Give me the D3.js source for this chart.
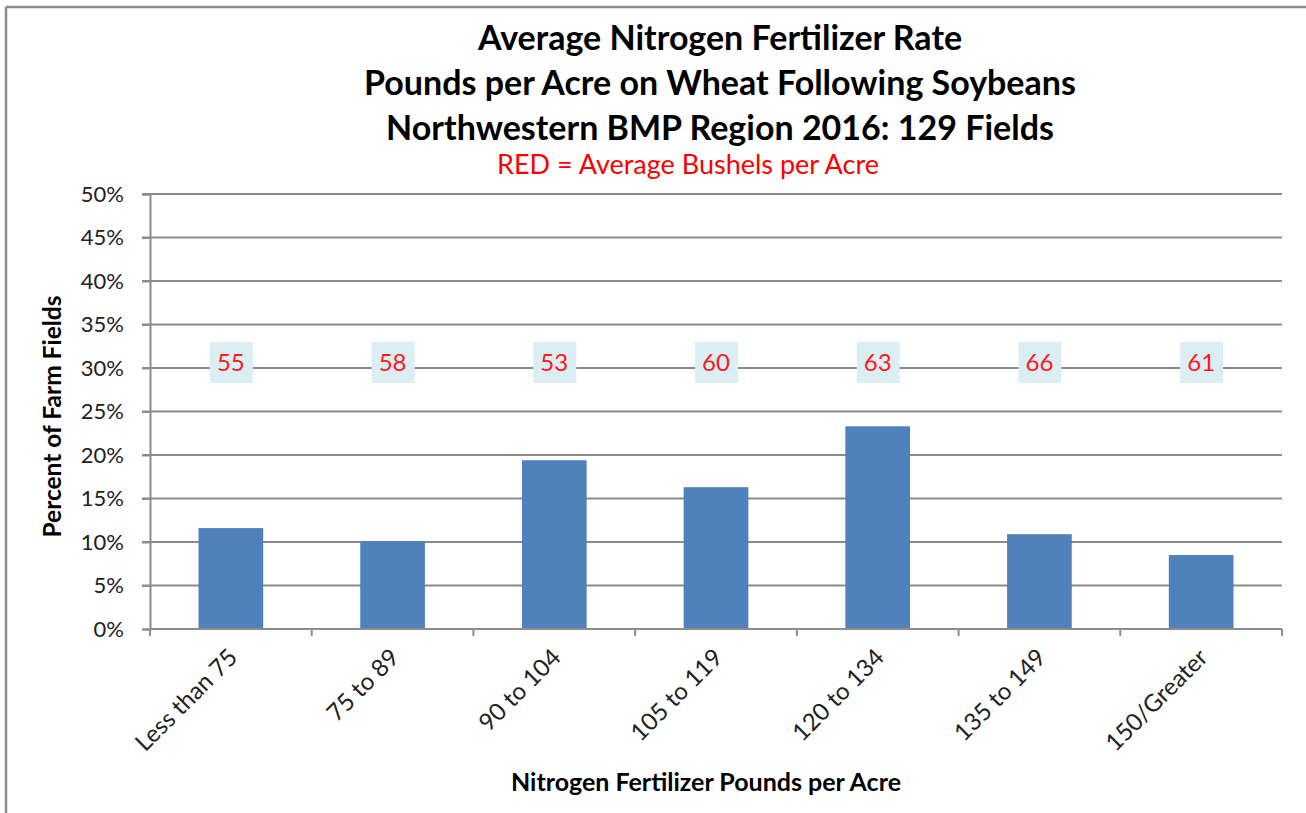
<!DOCTYPE html>
<html>
<head>
<meta charset="utf-8">
<script src="https://cdn.jsdelivr.net/npm/d3@7"></script>
<style>
  body { margin: 0; background: #fff; }
  text { font-family: Lato, "Open Sans", sans-serif; }
</style>
</head>
<body>
<svg id="chart"></svg>
<script>
// Chart values
const categories = ["Less than 75", "75 to 89", "90 to 104", "105 to 119", "120 to 134", "135 to 149", "150/Greater"];
const percentFields = [11.6, 10.1, 19.4, 16.3, 23.3, 10.9, 8.5];
const avgBushels = [55, 58, 53, 60, 63, 66, 61];
const yTicks = [0, 5, 10, 15, 20, 25, 30, 35, 40, 45, 50];
const titleLines = ["Average Nitrogen Fertilizer Rate", "Pounds per Acre on Wheat Following Soybeans", "Northwestern BMP Region 2016: 129 Fields"];

const width = 1306, height = 813;
const margin = { left: 150, right: 24, top: 194, bottom: 184 };

const svg = d3.select("#chart")
    .attr("width", width)
    .attr("height", height);

// outer frame (top and left edges only visible)
svg.append("line").attr("x1", 6).attr("x2", width).attr("y1", 7).attr("y2", 7)
    .attr("stroke", "#8c8c8c").attr("stroke-width", 2.5);
svg.append("line").attr("x1", 6).attr("x2", 6).attr("y1", 7).attr("y2", height)
    .attr("stroke", "#8c8c8c").attr("stroke-width", 2.5);

const x = d3.scaleBand()
    .domain(categories)
    .range([margin.left, width - margin.right])
    .paddingInner(0.6)
    .paddingOuter(0.3);

const y = d3.scaleLinear()
    .domain([0, 50])
    .range([height - margin.bottom, margin.top]);

// gridlines
svg.append("g")
    .selectAll("line")
    .data(yTicks.filter(d => d > 0))
    .join("line")
    .attr("x1", margin.left - 8)
    .attr("x2", width - margin.right)
    .attr("y1", d => y(d))
    .attr("y2", d => y(d))
    .attr("stroke", "#8c8c8c")
    .attr("stroke-width", 2);

// y axis
const yAxis = svg.append("g")
    .attr("transform", `translate(${margin.left},0)`)
    .call(d3.axisLeft(y).tickValues(yTicks).tickFormat(d => d + "%").tickSize(8).tickPadding(18));
yAxis.select(".domain").attr("stroke", "#8c8c8c").attr("stroke-width", 2);
yAxis.selectAll(".tick line").attr("stroke", "#8c8c8c").attr("stroke-width", 2);
yAxis.selectAll(".tick text")
    .attr("font-size", 22)
    .attr("fill", "#222")
    .style("font-family", "Lato, sans-serif");

// bars
svg.append("g")
    .selectAll("rect")
    .data(percentFields)
    .join("rect")
    .attr("x", (d, i) => x(categories[i]))
    .attr("y", d => y(d))
    .attr("width", x.bandwidth())
    .attr("height", d => y(0) - y(d))
    .attr("fill", "#4f81bd");

// x axis with ticks at category boundaries
const boundaries = d3.range(categories.length + 1).map(i => margin.left + i * (width - margin.right - margin.left) / categories.length);
svg.append("line")
    .attr("x1", margin.left).attr("x2", width - margin.right)
    .attr("y1", y(0)).attr("y2", y(0))
    .attr("stroke", "#8c8c8c").attr("stroke-width", 2);
svg.append("g")
    .selectAll("line")
    .data(boundaries)
    .join("line")
    .attr("x1", d => d).attr("x2", d => d)
    .attr("y1", y(0)).attr("y2", y(0) + 7)
    .attr("stroke", "#8c8c8c").attr("stroke-width", 2);

// x category labels rotated
svg.append("g")
    .selectAll("text")
    .data(categories)
    .join("text")
    .attr("transform", d => `translate(${x(d) + x.bandwidth() / 2 + 8},${y(0) + 30}) rotate(-45)`)
    .attr("text-anchor", "end")
    .attr("font-size", 24)
    .attr("fill", "#222")
    .text(d => d);

// bushel labels in boxes
const labels = svg.append("g")
    .selectAll("g")
    .data(avgBushels)
    .join("g")
    .attr("transform", (d, i) => `translate(${x(categories[i]) + x.bandwidth() / 2},${y(30.7)})`);
labels.append("rect")
    .attr("x", -21).attr("y", -20)
    .attr("width", 43).attr("height", 41)
    .attr("fill", "#dbeef4");
labels.append("text")
    .attr("text-anchor", "middle")
    .attr("dy", "0.36em")
    .attr("font-size", 24)
    .attr("fill", "#ff1a1a")
    .text(d => d);

// titles
svg.append("g")
    .selectAll("text")
    .data(titleLines)
    .join("text")
    .attr("x", 720)
    .attr("y", (d, i) => 50 + i * 45)
    .attr("text-anchor", "middle")
    .attr("font-size", 34)
    .attr("font-weight", "bold")
    .attr("fill", "#000")
    .text(d => d);

svg.append("text")
    .attr("x", 688)
    .attr("y", 174)
    .attr("text-anchor", "middle")
    .attr("font-size", 27)
    .attr("fill", "#ff0000")
    .text("RED = Average Bushels per Acre");

// axis titles
svg.append("text")
    .attr("transform", `translate(61,${(y(0) + y(50)) / 2 + 5}) rotate(-90)`)
    .attr("text-anchor", "middle")
    .attr("font-size", 24.5)
    .attr("font-weight", "bold")
    .attr("fill", "#000")
    .text("Percent of Farm Fields");

svg.append("text")
    .attr("x", 706)
    .attr("y", 791)
    .attr("text-anchor", "middle")
    .attr("font-size", 25)
    .attr("font-weight", "bold")
    .attr("fill", "#000")
    .text("Nitrogen Fertilizer Pounds per Acre");
</script>
</body>
</html>
